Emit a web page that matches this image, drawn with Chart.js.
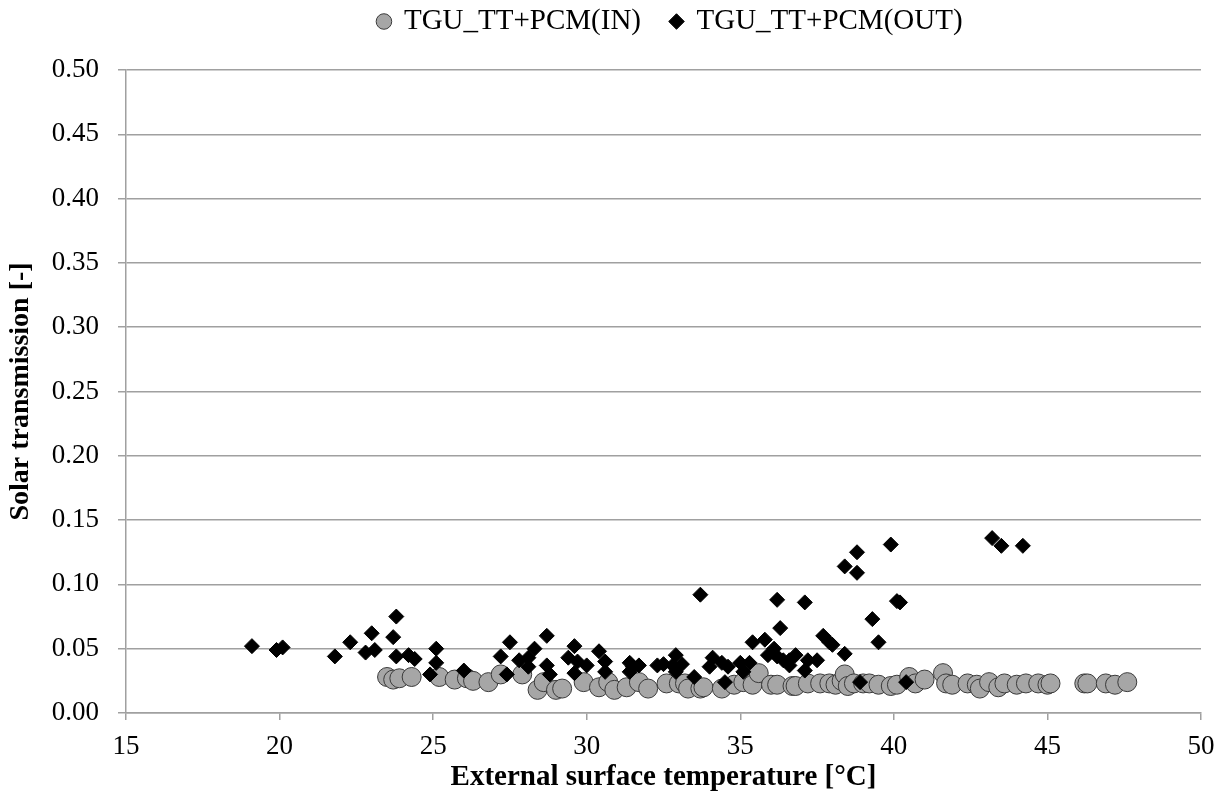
<!DOCTYPE html>
<html>
<head>
<meta charset="utf-8">
<script src="https://cdn.jsdelivr.net/npm/chart.js@4.4.1/dist/chart.umd.min.js"></script>
<style>
  html, body { margin: 0; padding: 0; background: #fff; }
  #wrap { width: 1221px; height: 798px; }
</style>
</head>
<body>
<div id="wrap"><canvas id="chart"></canvas></div>
<script>
// TGU_TT+PCM(IN) - grey circles
const inTemp = [23.5, 23.7, 23.9, 24.3, 25.2, 25.7, 26.1, 26.3, 26.8, 27.2, 27.9, 28.4, 28.6, 29.0, 29.2,
  29.9, 30.4, 30.7, 30.9, 31.3, 31.7, 32.0, 32.6, 33.0, 33.2, 33.3, 33.7, 33.8, 34.4, 34.8, 35.1, 35.4,
  35.6, 36.0, 36.2, 36.7, 36.8, 37.2, 37.6, 37.9, 38.1, 38.3, 38.4, 38.5, 38.7, 39.0, 39.2, 39.5, 39.9,
  40.1, 40.5, 40.7, 41.0, 41.6, 41.7, 41.9, 42.4, 42.7, 42.8, 43.1, 43.4, 43.6, 44.0, 44.3, 44.7, 45.0,
  45.1, 46.2, 46.3, 46.9, 47.2, 47.6]
const inTrans = [0.028, 0.026, 0.027, 0.028, 0.028, 0.026, 0.027, 0.025, 0.024, 0.030, 0.030, 0.018, 0.024, 0.018, 0.019,
  0.024, 0.020, 0.024, 0.018, 0.020, 0.024, 0.019, 0.023, 0.023, 0.023, 0.019, 0.019, 0.020, 0.019, 0.022, 0.024, 0.022,
  0.031, 0.022, 0.022, 0.021, 0.021, 0.023, 0.023, 0.023, 0.022, 0.025, 0.030, 0.021, 0.023, 0.023, 0.023, 0.022, 0.021,
  0.022, 0.028, 0.023, 0.026, 0.031, 0.023, 0.022, 0.023, 0.022, 0.019, 0.024, 0.020, 0.023, 0.022, 0.023, 0.023, 0.022,
  0.023, 0.023, 0.023, 0.023, 0.022, 0.024]

// TGU_TT+PCM(OUT) - black diamonds
const outTemp = [19.1, 19.9, 20.1, 21.8, 22.3, 22.8, 23.0, 23.1, 23.7, 23.8, 23.8, 24.2, 24.4, 24.9, 25.1,
  25.1, 26.0, 27.2, 27.4, 27.5, 27.8, 28.1, 28.1, 28.3, 28.7, 28.7, 28.8, 29.4, 29.6, 29.6, 29.7, 30.0,
  30.4, 30.6, 30.6, 31.4, 31.4, 31.5, 31.7, 32.3, 32.5, 32.8, 32.9, 32.9, 33.1, 33.5, 33.7, 34.0, 34.1,
  34.4, 34.5, 34.6, 35.0, 35.1, 35.3, 35.4, 35.8, 35.9, 36.1, 36.2, 36.2, 36.3, 36.4, 36.6, 36.6, 36.8,
  37.1, 37.1, 37.2, 37.5, 37.7, 37.9, 38.0, 38.4, 38.4, 38.8, 38.8, 38.9, 39.3, 39.5, 39.9, 40.1, 40.2,
  40.4, 43.2, 43.5, 44.2]
const outTrans = [0.052, 0.049, 0.051, 0.044, 0.055, 0.047, 0.062, 0.049, 0.059, 0.075, 0.044, 0.045, 0.042, 0.030, 0.039,
  0.050, 0.033, 0.044, 0.030, 0.055, 0.041, 0.043, 0.036, 0.050, 0.060, 0.037, 0.030, 0.043, 0.031, 0.052, 0.040, 0.037,
  0.048, 0.032, 0.040, 0.039, 0.032, 0.036, 0.037, 0.037, 0.038, 0.037, 0.045, 0.032, 0.038, 0.028, 0.092, 0.036, 0.043,
  0.039, 0.024, 0.036, 0.039, 0.032, 0.039, 0.055, 0.057, 0.045, 0.050, 0.088, 0.044, 0.066, 0.041, 0.041, 0.037, 0.045,
  0.033, 0.086, 0.041, 0.041, 0.060, 0.055, 0.053, 0.046, 0.114, 0.109, 0.125, 0.024, 0.073, 0.055, 0.131, 0.087, 0.086,
  0.024, 0.136, 0.130, 0.130]

const xMin = 15, xMax = 50, xStep = 5
const yMin = 0, yMax = 0.5, yStep = 0.05

const toPoints = (xs, ys) => xs.map((x, i) => ({x: x, y: ys[i]}))

const serif = 'Liberation Serif, Times New Roman, serif'
const gridGrey = '#a0a0a0'

// nudge the legend so it sits over the plot area like the original
// (only top moves up, bottom stays so the legend clip box keeps the text)
const shiftLegend = {
  id: 'shiftLegend',
  afterLayout(chart) {
    const lg = chart.legend
    lg.left += 70
    lg.right += 70
    lg.top -= 43
  }
}

new Chart(document.getElementById('chart'), {
  type: 'scatter',
  data: {
    datasets: [
      {
        label: 'TGU_TT+PCM(IN)',
        data: toPoints(inTemp, inTrans),
        pointStyle: 'circle',
        pointRadius: 9.5,
        pointHoverRadius: 9.5,
        backgroundColor: '#a6a6a6',
        borderColor: '#3a3a3a',
        borderWidth: 1,
        order: 1
      },
      {
        label: 'TGU_TT+PCM(OUT)',
        data: toPoints(outTemp, outTrans),
        pointStyle: 'rectRot',
        pointRadius: 7.5,
        pointHoverRadius: 7.5,
        backgroundColor: '#000',
        borderColor: '#000',
        borderWidth: 1,
        order: 0
      }
    ]
  },
  options: {
    responsive: true,
    maintainAspectRatio: false,
    animation: false,
    layout: {
      padding: {top: 20, right: 20, bottom: 0, left: 0}
    },
    plugins: {
      legend: {
        position: 'top',
        maxHeight: 50,
        labels: {
          usePointStyle: true,
          boxWidth: 11,
          boxHeight: 11,
          padding: 30,
          color: '#000',
          font: {family: serif, size: 29},
          sort: (a, b) => a.datasetIndex - b.datasetIndex
        }
      },
      tooltip: {enabled: false}
    },
    scales: {
      x: {
        type: 'linear',
        min: xMin,
        max: xMax,
        afterFit(scale) {
          scale.height = 85
          scale.paddingRight = 0
        },
        ticks: {
          stepSize: xStep,
          color: '#000',
          padding: 11,
          font: {family: serif, size: 27}
        },
        grid: {
          drawOnChartArea: false,
          drawTicks: true,
          tickLength: 7,
          color: gridGrey,
          lineWidth: 1.5
        },
        border: {color: gridGrey, width: 1.5},
        title: {
          display: true,
          text: 'External surface temperature [°C]',
          color: '#000',
          padding: {top: 0, bottom: 3},
          font: {family: serif, size: 29, weight: 'bold'}
        }
      },
      y: {
        type: 'linear',
        min: yMin,
        max: yMax,
        afterFit(scale) { scale.width = 126 },
        ticks: {
          stepSize: yStep,
          color: '#000',
          padding: 19,
          font: {family: serif, size: 27},
          callback: (v) => v.toFixed(2)
        },
        grid: {
          color: gridGrey,
          lineWidth: 1.5,
          tickLength: 8
        },
        border: {color: gridGrey, width: 1.5},
        title: {
          display: true,
          text: 'Solar transmission [-]',
          color: '#000',
          padding: {top: 4, bottom: 0},
          font: {family: serif, size: 28, weight: 'bold'}
        }
      }
    }
  },
  plugins: [shiftLegend]
})
</script>
</body>
</html>
